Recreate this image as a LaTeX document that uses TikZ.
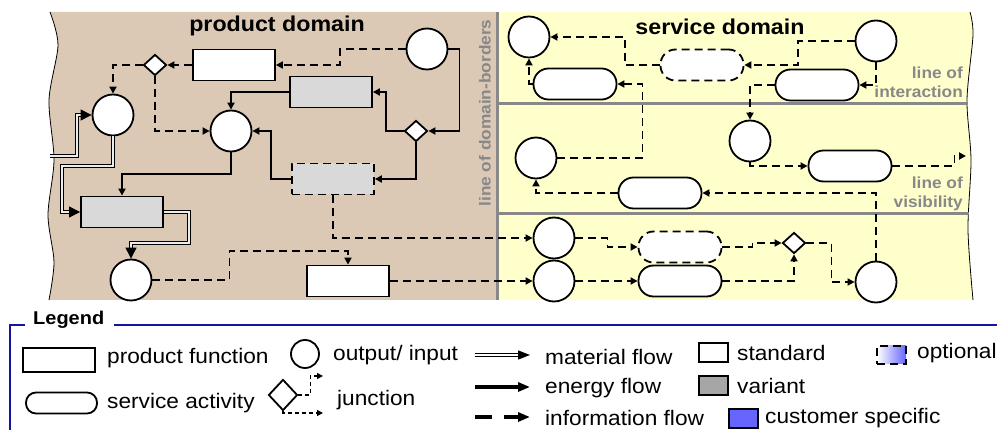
\documentclass[tikz,border=0pt]{standalone}
\usepackage{fontspec}
\setmainfont{Liberation Sans}[FakeStretch=1.08]
\usetikzlibrary{arrows.meta,shapes.geometric}

\definecolor{prodbg}{RGB}{219,201,181}
\definecolor{servbg}{RGB}{255,255,204}
\definecolor{borderline}{RGB}{136,136,136}
\definecolor{legendblue}{RGB}{20,20,160}
\definecolor{custblue}{RGB}{102,102,255}

\begin{document}
\begin{tikzpicture}[x=1pt, y=-1pt,
    box/.style={draw, line width=1.8pt, inner sep=0pt, fill=white},
    pfunc/.style={box, minimum width=82pt, minimum height=31pt},
    sact/.style={box, rounded corners=15pt, minimum width=83pt, minimum height=31pt},
    variant/.style={fill=gray!30},
    optional/.style={dash pattern=on 8pt off 5pt},
    io/.style={box, circle, minimum size=41pt},
    junc/.style={box, diamond, minimum width=23pt, minimum height=21pt},
    energy/.style={line width=1.8pt, -{Triangle[length=7pt,width=7pt]}},
    info/.style={energy, dash pattern=on 8pt off 5pt},
    material/.style={line width=1pt, double=gray!15, double distance=1.8pt, -{Triangle[length=11pt,width=11pt]}},
    title/.style={font=\fontsize{21.5}{24}\selectfont\bfseries},
    domlabel/.style={font=\fontsize{16}{19}\selectfont\bfseries, text=borderline, align=right, inner sep=0pt},
    lgtext/.style={font=\fontsize{21}{24}\selectfont, anchor=west, inner sep=0pt},
    lgmat/.style={line width=1.3pt, double=white, double distance=1.6pt, -{Triangle[length=12pt,width=9pt]}},
    lgenergy/.style={line width=3.5pt, -{Triangle[length=12pt,width=9pt]}},
    lginfo/.style={lgenergy, dash pattern=on 17pt off 12pt},
    lgjn/.style={line width=1.2pt, dash pattern=on 4pt off 3pt, -{Triangle[length=6pt,width=6pt]}}
]
\useasboundingbox (0,0) rectangle (997,430);

% product domain, wavy left edge
\fill[prodbg] plot[smooth] coordinates {(50,12) (58,45) (49,100) (54,160) (48,215) (54,262) (49,300)} -- (497,300) -- (497,12) -- cycle;
\draw[line width=0.8pt] plot[smooth] coordinates {(50,12) (58,45) (49,100) (54,160) (48,215) (54,262) (49,300)};

% service domain, wavy right edge
\fill[servbg] (497,12) -- (497,300) -- plot[smooth] coordinates {(973,300) (968,230) (971,160) (967,100) (973,35) (970,12)} -- cycle;
\draw[line width=0.8pt] plot[smooth] coordinates {(973,300) (968,230) (971,160) (967,100) (973,35) (970,12)};

% borders between the domains and the service lines
\draw[borderline, line width=3pt] (497,12) -- (497,300);
\draw[borderline, line width=3pt] (497,104) -- (968,104);
\draw[borderline, line width=3pt] (497,214) -- (969,214);

\node[title] (prodTitle) at (277,26) {product domain};
\node[title] (servTitle) at (720,27) {service domain};
\node[domlabel, rotate=90] (borderLbl) at (485,113) {line of domain-borders};
\node[domlabel, anchor=east] (interLbl) at (963,82) {line of\\interaction};
\node[domlabel, anchor=east] (visLbl) at (963,194) {line of\\visibility};

% product domain elements
\node[io] (pIn) at (427,49) {};
\node[pfunc] (pfA) at (234,65) {};
\node[junc] (jA) at (155,65) {};
\node[pfunc, variant] (pfB) at (331,92) {};
\node[io] (oA) at (113,115) {};
\node[io] (oB) at (231,131) {};
\node[junc] (jB) at (416,131) {};
\node[pfunc, variant, optional] (pfC) at (333,179) {};
\node[pfunc, variant] (pfD) at (122,212) {};
\node[io] (oC) at (131,280) {};
\node[pfunc] (pfE) at (348,281) {};
\coordinate (mIn) at (50,156);

% service domain elements
\node[io] (sA) at (529,37) {};
\node[io] (sB) at (876,41) {};
\node[sact, optional] (saA) at (702,65) {};
\node[sact] (saB) at (575,84) {};
\node[sact] (saC) at (817,85) {};
\node[io] (sC) at (750,141) {};
\node[io] (sD) at (536,158) {};
\node[sact] (saD) at (850,166) {};
\node[sact] (saE) at (660,193) {};
\node[io] (sE) at (554,238) {};
\node[io] (sF) at (554,281) {};
\node[sact, optional] (saF) at (680,247) {};
\node[sact] (saG) at (680,281) {};
\node[junc] (jC) at (794,243) {};
\node[io] (sG) at (876,282) {};
\coordinate (sOut) at (966,156);

% material flows
\draw[material] (mIn) -- ++(27,0) |- (oA.west);
\draw[material] (oA.south) -- ++(0,30) -- ++(-51,0) |- (pfD.west);
\draw[material] (pfD.east) -- ++(25,0) -- ++(0,31) -| (oC.north);

% energy flows
\draw[energy] (pIn.east) -- ++(11,0) |- (jB.east);
\draw[energy] (jB.west) -- ++(-18,0) |- (pfB.east);
\draw[energy] (pfB.west) -| (oB.north);
\draw[energy] (jB.south) |- (pfC.east);
\draw[energy] (pfC.west) -- ++(-20,0) |- (oB.east);
\draw[energy] (oB.south) -- ++(0,22) -| (pfD.north);

% information flows, product side
\draw[info] (pIn.west) -- ++(-66,0) |- (pfA.east);
\draw[info] (pfA.west) -- (jA.east);
\draw[info] (jA.west) -| (oA.north);
\draw[info] (jA.south) |- (oB.west);
\draw[info] (pfC.south) |- (sE.west);
\draw[info] (oC.east) -- ++(77,0) -- ++(0,-29) -| (pfE.north);
\draw[info] (pfE.east) -- (sF.west);

% information flows, service side
\draw[info] (sB.west) -- ++(-57,0) |- (saA.east);
\draw[info] (saA.west) -- ++(-35,0) |- (sA.east);
\draw[info] (sB.south) |- (saC.east);
\draw[info] (saC.west) -| (sC.north);
\draw[info] (saB.west) -| (sA.south);
\draw[info] (sD.east) -- ++(85,0) |- (saB.east);
\draw[info] (sC.south) |- (saD.west);
\draw[info] (saD.east) -- ++(62,0) |- (sOut);
\draw[info] (sG.north) |- (saE.east);
\draw[info] (saE.west) -| (sD.south);
\draw[info] (sE.east) -- ++(32,0) |- (saF.west);
\draw[info] (sF.east) -- (saG.west);
\draw[info] (saF.east) -- ++(30,0) |- (jC.west);
\draw[info] (saG.east) -| (jC.south);
\draw[info] (jC.east) -- ++(25,0) |- (sG.west);

% Legend
\draw[legendblue, line width=1.2pt] (25,325) -- (10,325) -- (10,430);
\draw[legendblue, line width=1.2pt] (114,325) -- (997,325);
\node[font=\fontsize{18.5}{20}\selectfont\bfseries, anchor=west, inner sep=0pt] (lgTitle) at (33,320) {Legend};

\node[box, minimum width=72pt, minimum height=24pt] (lgFunc) at (59,360) {};
\node[lgtext] (lgFuncTxt) at (107,358) {product function};
\node[box, circle, minimum size=28pt] (lgIO) at (305,354) {};
\node[lgtext] (lgIOTxt) at (333,355) {output/ input};
\node[box, rounded corners=10pt, minimum width=71pt, minimum height=21pt] (lgAct) at (61.5,403) {};
\node[lgtext] (lgActTxt) at (107,403) {service activity};
\node[box, diamond, minimum width=29pt, minimum height=31pt] (lgJunc) at (283,395) {};
\coordinate (lgJuncA) at (323,376);
\coordinate (lgJuncB) at (323,413);
\draw[lgjn] (lgJunc.east) -- ++(12,0) |- (lgJuncA);
\draw[lgjn] (lgJunc.south) |- (lgJuncB);
\node[lgtext] (lgJuncTxt) at (337,400) {junction};

\coordinate (lgMatA) at (475,355);
\coordinate (lgMatB) at (530,355);
\coordinate (lgEnA) at (475,387);
\coordinate (lgEnB) at (530,387);
\coordinate (lgInA) at (475,417);
\coordinate (lgInB) at (530,417);
\draw[lgmat] (lgMatA) -- (lgMatB);
\draw[lgenergy] (lgEnA) -- (lgEnB);
\draw[lginfo] (lgInA) -- (lgInB);
\node[lgtext] (lgMatTxt) at (545,357) {material flow};
\node[lgtext] (lgEnTxt) at (545,388) {energy flow};
\node[lgtext] (lgInTxt) at (545,418) {information flow};

\node[box, minimum width=29pt, minimum height=19pt] (lgStd) at (713.5,352.5) {};
\node[lgtext] (lgStdTxt) at (737,353) {standard};
\node[box, fill=gray!70, minimum width=29pt, minimum height=19pt] (lgVar) at (713.5,385.5) {};
\node[lgtext] (lgVarTxt) at (737,386) {variant};
\node[box, fill=custblue, minimum width=29pt, minimum height=19pt] (lgCust) at (743.5,418.5) {};
\node[lgtext] (lgCustTxt) at (765,418) {customer specific};
\node[box, optional, left color=white, middle color=gray!60, right color=custblue, minimum width=29pt, minimum height=18pt] (lgOpt) at (891.5,355) {};
\node[lgtext] (lgOptTxt) at (917,353) {optional};
\end{tikzpicture}
\end{document}
